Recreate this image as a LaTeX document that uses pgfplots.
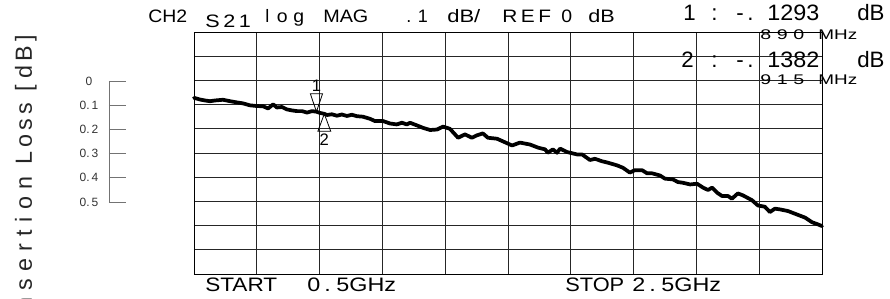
\documentclass[border=0pt]{standalone}
\usepackage{fontspec}
\setmainfont{Liberation Sans}
\newfontfamily\hpl[LetterSpace=18]{Liberation Sans}
\usepackage{pgfplots}
\pgfplotsset{compat=1.18}
\pgfdeclareplotmark{mkdown}{%
  \pgfpathmoveto{\pgfqpoint{0pt}{0pt}}%
  \pgfpathlineto{\pgfqpoint{-4.6pt}{13.5pt}}%
  \pgfpathlineto{\pgfqpoint{4.6pt}{13.5pt}}%
  \pgfpathclose\pgfusepathqstroke}
\pgfdeclareplotmark{mkup}{%
  \pgfpathmoveto{\pgfqpoint{0pt}{0pt}}%
  \pgfpathlineto{\pgfqpoint{-4.8pt}{-13pt}}%
  \pgfpathlineto{\pgfqpoint{4.8pt}{-13pt}}%
  \pgfpathclose\pgfusepathqstroke}
\def\lblgap{\kern5.5pt}
\begin{document}
\begin{tikzpicture}
\begin{axis}[at={(0pt,0pt)}, anchor=south west, scale only axis,
  width=471pt, height=181.5pt,
  xmin=0.5, xmax=2.5, ymin=-0.8, ymax=0.2,
  xtick={0.5,0.7,0.9,1.1,1.3,1.5,1.7,1.9,2.1,2.3,2.5},
  ytick={-0.8,-0.7,-0.6,-0.5,-0.4,-0.3,-0.2,-0.1,0,0.1,0.2},
  xticklabels={}, yticklabels={}, major tick length=0pt,
  grid=major, grid style={black!85, line width=0.7pt},
  axis line style={black, line width=0.7pt}, clip=false]
\addplot[black, line width=2.8pt, line join=round, line cap=round] coordinates {
(0.500,-0.072) (0.519,-0.079) (0.535,-0.083) (0.551,-0.086) (0.567,-0.083) (0.592,-0.080) (0.615,-0.086) (0.637,-0.091) (0.656,-0.095) (0.678,-0.103) (0.701,-0.106) (0.720,-0.107) (0.736,-0.116) (0.752,-0.099) (0.764,-0.112) (0.780,-0.110) (0.796,-0.120) (0.812,-0.124) (0.828,-0.127) (0.844,-0.127) (0.860,-0.133) (0.876,-0.127) (0.890,-0.1293) (0.900,-0.134) (0.915,-0.1382) (0.924,-0.143) (0.939,-0.140) (0.955,-0.146) (0.971,-0.141) (0.987,-0.147) (1.003,-0.142) (1.019,-0.148) (1.038,-0.150) (1.061,-0.159) (1.076,-0.168) (1.102,-0.168) (1.124,-0.178) (1.146,-0.182) (1.162,-0.175) (1.178,-0.182) (1.188,-0.175) (1.210,-0.186) (1.229,-0.196) (1.252,-0.205) (1.274,-0.203) (1.293,-0.191) (1.315,-0.200) (1.341,-0.237) (1.363,-0.223) (1.385,-0.237) (1.401,-0.227) (1.420,-0.219) (1.436,-0.237) (1.465,-0.241) (1.484,-0.252) (1.513,-0.269) (1.538,-0.257) (1.570,-0.265) (1.596,-0.278) (1.618,-0.285) (1.627,-0.299) (1.643,-0.285) (1.656,-0.299) (1.666,-0.282) (1.688,-0.296) (1.720,-0.306) (1.736,-0.306) (1.761,-0.329) (1.777,-0.324) (1.799,-0.334) (1.818,-0.340) (1.847,-0.351) (1.866,-0.361) (1.888,-0.381) (1.904,-0.371) (1.927,-0.371) (1.943,-0.384) (1.959,-0.384) (1.984,-0.393) (2.000,-0.406) (2.025,-0.409) (2.041,-0.420) (2.057,-0.423) (2.080,-0.430) (2.102,-0.427) (2.121,-0.443) (2.137,-0.453) (2.150,-0.443) (2.166,-0.464) (2.182,-0.478) (2.201,-0.478) (2.213,-0.489) (2.232,-0.467) (2.248,-0.475) (2.277,-0.495) (2.296,-0.517) (2.318,-0.522) (2.334,-0.544) (2.350,-0.530) (2.366,-0.533) (2.392,-0.540) (2.420,-0.554) (2.446,-0.567) (2.468,-0.586) (2.487,-0.595) (2.500,-0.602)
};
\addplot[only marks, mark=mkdown, mark options={draw=black, line width=0.6pt},
  nodes near coords={1},
  every node near coord/.append style={anchor=center, yshift=19.5pt, font=\fontsize{12.5}{12}\selectfont, text=black}]
  coordinates {(0.890,-0.1293)};
\addplot[only marks, mark=mkup, mark options={draw=black, line width=0.6pt},
  nodes near coords={2},
  every node near coord/.append style={anchor=center, yshift=-19.2pt, font=\fontsize{12.5}{12}\selectfont, text=black}]
  coordinates {(0.915,-0.1382)};
\end{axis}
\begin{axis}[at={(-63.75pt,54pt)}, anchor=south west, scale only axis,
  width=12.75pt, height=90.75pt,
  xmin=0, xmax=1, ymin=0, ymax=0.5, y dir=reverse,
  axis x line=none, axis y line=left,
  axis line style={-, black!55, line width=0.7pt},
  ytick={0,0.1,0.2,0.3,0.4,0.5},
  yticklabels={0,0.\,1,0.\,2,0.\,3,0.\,4,0.\,5},
  ytick pos=left, tick align=inside, major tick length=12.75pt,
  ytick style={black!55, line width=0.7pt},
  yticklabel style={anchor=center, xshift=-15pt, font=\fontsize{9}{9}\selectfont, text=black!80}]
\addplot[draw=none] coordinates {(0,0) (1,0.5)};
\end{axis}
\begin{scope}[shift={(-145.5pt,205.5pt)}, x=0.75pt, y=-0.75pt]
\tikzset{t/.style={anchor=base west, inner sep=0pt, text=black}}
\def\ttlf{\fontsize{13.5}{13.5}\selectfont}
\node[t, font=\ttlf, xscale=1.08] at (148,23) {CH2};
\node[t, font=\ttlf, xscale=1.2] at (205,27.7) {S\,2\,1};
\node[t, font=\ttlf] at (265,23) {l};
\node[t, font=\ttlf, xscale=1.08] at (276.5,23) {o\hspace{4pt}g};
\node[t, font=\ttlf, xscale=1.1] at (323,23) {MAG};
\node[t, font=\ttlf] at (406,23) {.\hspace{5pt}1};
\node[t, font=\ttlf, xscale=1.22] at (447,23) {dB/};
\node[t, font=\ttlf, xscale=1.16] at (502,23) {R\,E\,F};
\node[t, font=\ttlf, xscale=1.08] at (561,23) {0};
\node[t, font=\ttlf, xscale=1.2] at (588,23) {dB};
\def\rdf{\fontsize{16.7}{17}\selectfont}
\node[t, font=\rdf] at (683,21) {1};
\node[t, font=\rdf] at (711,21) {:};
\node[t, font=\rdf] at (736,21) {-\,.};
\node[t, font=\rdf, xscale=1.05] at (767,21) {1293};
\node[t, font=\rdf] at (857,21) {dB};
\node[t, font=\rdf] at (681,68) {2};
\node[t, font=\rdf] at (711,68) {:};
\node[t, font=\rdf] at (736,68) {-\,.};
\node[t, font=\rdf, xscale=1.05] at (767,68) {1382};
\node[t, font=\rdf] at (857,68) {dB};
\def\mhf{\fontsize{10.5}{11}\selectfont}
\node[t, font=\mhf, xscale=1.4] at (760,40) {8\hspace{3pt}9\hspace{3pt}0};
\node[t, font=\mhf, xscale=1.35] at (818,40) {MHz};
\node[t, font=\mhf, xscale=1.4] at (760,85) {9\hspace{3pt}1\hspace{3pt}5};
\node[t, font=\mhf, xscale=1.35] at (818,85) {MHz};
\def\btf{\fontsize{14.6}{15}\selectfont}
\node[t, font=\btf, xscale=1.16] at (205,291.5) {START};
\node[t, font=\btf, xscale=1.2] at (307,291.5) {0\hspace{2.5pt}.\hspace{3.5pt}5GHz};
\node[t, font=\btf, xscale=1.12] at (565,291.5) {STOP};
\node[t, font=\btf, xscale=1.2] at (632,291.5) {2\hspace{2.5pt}.\hspace{3.5pt}5GHz};
\node[anchor=base east, inner sep=0pt, rotate=90, text=black!85,
  font=\hpl\fontsize{17.5}{18}\selectfont] at (32,35)
  {I\lblgap n\lblgap s\lblgap e\lblgap r\lblgap t\lblgap i\lblgap o\lblgap n\kern9pt Loss\kern8pt[\kern5pt dB]};
\end{scope}
\pgfresetboundingbox
\path[use as bounding box] (-145.5pt,-18.75pt) rectangle (522pt,205.5pt);
\end{tikzpicture}
\end{document}
